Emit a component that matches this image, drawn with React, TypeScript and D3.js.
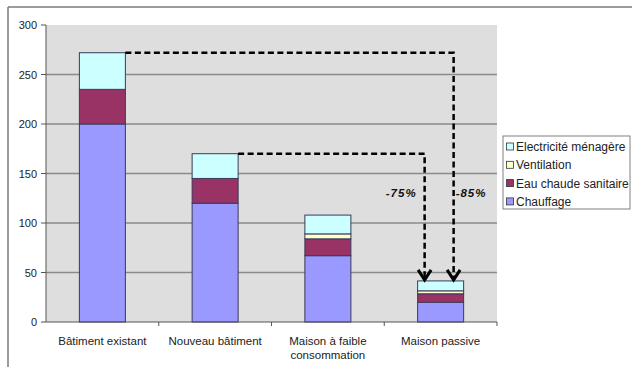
import React from "react";
import * as d3 from "d3";

const categories = ["Bâtiment existant", "Nouveau bâtiment", "Maison à faible|consommation", "Maison passive"];
const seriesNames = ["Chauffage", "Eau chaude sanitaire", "Ventilation", "Electricité ménagère"];
const chauffage = [200, 120, 67, 20];
const eauChaude = [35, 25, 17, 8.5];
const ventilation = [0, 0, 5, 3];
const electricite = [37, 25, 19, 10];
const seriesColors = ["#9999FF", "#993366", "#FFFFCC", "#CCFFFF"];
const yTicks = [0, 50, 100, 150, 200, 250, 300];
const annotations = [
  { from: 0, to: 3, label: "-85%", side: "right", offset: 36 },
  { from: 1, to: 3, label: "-75%", side: "left", offset: 7 },
];

export default function App() {
  const W = 632, H = 367;
  const left = 46, right = 497, top = 25, bottom = 322;
  const x = d3.scaleBand<string>().domain(categories).range([left, right]);
  const y = d3.scaleLinear().domain([0, 300]).range([bottom, top]);
  const step = x.step();
  const bw = 46;
  const seriesData = [chauffage, eauChaude, ventilation, electricite];
  const rows = categories.map((c, i) => {
    const r: any = { cat: c };
    seriesNames.forEach((s, k) => (r[s] = seriesData[k][i]));
    return r;
  });
  const stacked = d3.stack().keys(seriesNames)(rows);
  const totals = categories.map((_, i) => seriesData.reduce((a, s) => a + s[i], 0));
  const barX = (i: number) => (x(categories[i]) as number) + (step - bw) / 2;
  const font = "'Liberation Sans', Arial, sans-serif";
  const legendItems = [...seriesNames].reverse();
  const legendColors = [...seriesColors].reverse();

  return (
    <svg width={W} height={H} style={{ position: "absolute", left: 0, top: 0 }} fontFamily={font}>
      <rect x={0} y={0} width={W} height={H} fill="#fff" />
      <line x1={8} y1={7} x2={W} y2={7} stroke="#7a7a7a" strokeWidth={1.5} />
      <line x1={8} y1={7} x2={8} y2={H} stroke="#7a7a7a" strokeWidth={1.5} />
      <rect x={left} y={top} width={right - left} height={bottom - top} fill="#DEDEDE" />
      {yTicks.filter((t) => t > 0 && t < 300).map((t) => (
        <line key={t} x1={left} x2={right} y1={y(t)} y2={y(t)} stroke="#8a8a8a" strokeWidth={1.3} />
      ))}
      {yTicks.map((t) => (
        <g key={"t" + t}>
          <line x1={left - 5} x2={left} y1={y(t)} y2={y(t)} stroke="#555" />
          <text x={37} y={y(t) + 4} textAnchor="end" fontSize={11} fill="#222">{t}</text>
        </g>
      ))}
      {stacked.map((s, k) => (
        <g key={s.key}>
          {s.map((d, i) =>
            d[1] - d[0] > 0 ? (
              <rect key={i} x={barX(i)} y={y(d[1])} width={bw} height={y(d[0]) - y(d[1])}
                fill={seriesColors[k]} stroke="#3a3a5a" strokeWidth={1} />
            ) : null
          )}
        </g>
      ))}
      <line x1={left} x2={left} y1={top} y2={bottom} stroke="#555" strokeWidth={1} />
      <line x1={left} x2={right} y1={bottom} y2={bottom} stroke="#555" strokeWidth={1} />
      {categories.map((c, i) => (
        <line key={"xt" + i} x1={left + step * (i + 1)} x2={left + step * (i + 1)} y1={bottom} y2={bottom + 4} stroke="#555" />
      ))}
      {categories.map((c, i) => {
        const lines = c.split("|");
        const cx = (x(c) as number) + step / 2;
        return (
          <text key={"xl" + i} x={cx} y={345} textAnchor="middle" fontSize={11.5} fill="#222">
            {lines.map((l, j) => (
              <tspan key={j} x={cx} dy={j === 0 ? 0 : 14}>{l}</tspan>
            ))}
          </text>
        );
      })}
      {annotations.map((a, idx) => {
        const x0 = barX(a.from) + bw;
        const y0 = y(totals[a.from]);
        const ax = barX(a.to) + a.offset;
        const y1 = y(totals[a.to]) - 1;
        return (
          <g key={"a" + idx}>
            <path d={`M${x0},${y0} H${ax} V${y1 - 3}`} fill="none" stroke="#000" strokeWidth={2.5} strokeDasharray="6,3.5" />
            <path d={`M${ax - 6.5},${y1 - 10} L${ax},${y1} L${ax + 6.5},${y1 - 10}`} fill="none" stroke="#000" strokeWidth={3} />
            <text x={a.side === "left" ? ax - 8 : ax + 2} y={197} textAnchor={a.side === "left" ? "end" : "start"}
              fontSize={11.5} fontWeight="bold" fontStyle="italic" letterSpacing={1} fill="#111">{a.label}</text>
          </g>
        );
      })}
      <rect x={503} y={136} width={127} height={73} fill="#fff" stroke="#808080" strokeWidth={1} />
      {legendItems.map((s, i) => {
        const cy = 147 + i * 18.3;
        return (
          <g key={"lg" + i}>
            <rect x={506.5} y={cy - 4} width={7} height={7} fill={legendColors[i]} stroke="#333" strokeWidth={0.8} />
            <text x={516} y={cy + 4} fontSize={12} fill="#222">{s}</text>
          </g>
        );
      })}
    </svg>
  );
}
